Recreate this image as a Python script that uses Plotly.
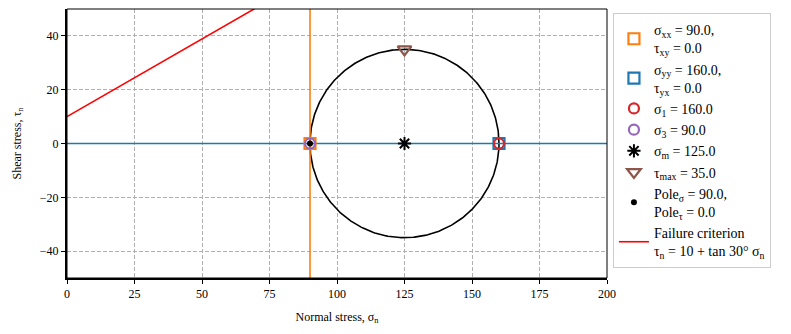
import numpy as np
import plotly.graph_objects as go

# Data
sigma_xx, tau_xy = 90.0, 0.0
sigma_yy, tau_yx = 160.0, 0.0
sigma_1 = 160.0
sigma_3 = 90.0
sigma_m = 125.0
tau_max = 35.0
pole_sigma, pole_tau = 90.0, 0.0
cohesion = 10.0
friction_deg = 30.0
x_ticks = [0, 25, 50, 75, 100, 125, 150, 175, 200]
y_ticks = [-40, -20, 0, 20, 40]

FONT = "Liberation Serif"
fig = go.Figure()

# Mohr circle
theta = np.linspace(0, 2 * np.pi, 400)
fig.add_trace(go.Scatter(x=sigma_m + tau_max * np.cos(theta), y=tau_max * np.sin(theta),
                         mode="lines", line=dict(color="black", width=1.6),
                         showlegend=False, hoverinfo="skip"))
# Plane lines through the pole
fig.add_trace(go.Scatter(x=[sigma_xx, sigma_xx], y=[-50, 50], mode="lines",
                         line=dict(color="#ff7f0e", width=1.6), showlegend=False))
fig.add_trace(go.Scatter(x=[0, 200], y=[pole_tau, pole_tau], mode="lines",
                         line=dict(color="#1f77b4", width=1.6), showlegend=False))

def mk(x, y, name, symbol, color, size=11, lw=2.2):
    fig.add_trace(go.Scatter(x=[x], y=[y], mode="markers", name=name,
                             marker=dict(symbol=symbol, size=size, color=color,
                                         line=dict(color=color, width=lw))))

mk(sigma_xx, tau_xy, f"σ<sub>xx</sub> = {sigma_xx:.1f},<br>τ<sub>xy</sub> = {tau_xy:.1f}", "square-open", "#ff7f0e")
mk(sigma_yy, tau_yx, f"σ<sub>yy</sub> = {sigma_yy:.1f},<br>τ<sub>yx</sub> = {tau_yx:.1f}", "square-open", "#1f77b4")
mk(sigma_1, 0, f"σ<sub>1</sub> = {sigma_1:.1f}", "circle-open", "#d62728", size=10)
mk(sigma_3, 0, f"σ<sub>3</sub> = {sigma_3:.1f}", "circle-open", "#9467bd", size=10)
mk(sigma_m, 0, f"σ<sub>m</sub> = {sigma_m:.1f}", "asterisk-open", "black", size=11, lw=2)
mk(sigma_m, tau_max, f"τ<sub>max</sub> = {tau_max:.1f}", "triangle-down-open", "#8c564b", size=12)
fig.add_trace(go.Scatter(x=[pole_sigma], y=[pole_tau], mode="markers",
                         name=f"Pole<sub>σ</sub> = {pole_sigma:.1f},<br>Pole<sub>τ</sub> = {pole_tau:.1f}",
                         marker=dict(symbol="circle", size=6, color="black")))

# Failure criterion
xf = np.array([0.0, 200.0])
fig.add_trace(go.Scatter(x=xf, y=cohesion + np.tan(np.radians(friction_deg)) * xf, mode="lines",
                         name="Failure criterion<br>τ<sub>n</sub> = 10 + tan 30° σ<sub>n</sub>",
                         line=dict(color="red", width=1.6)))

axis_common = dict(showgrid=True, gridcolor="#b0b0b0", griddash="4px,2px", gridwidth=1,
                   zeroline=False, showline=True, linecolor="black", linewidth=2,
                   ticks="outside", ticklen=4, tickcolor="black", tickwidth=1,
                   tickfont=dict(family=FONT, size=12, color="black"), mirror=False)

fig.update_layout(
    width=791, height=334,
    margin=dict(l=67, r=184, t=9, b=56),
    plot_bgcolor="white", paper_bgcolor="white",
    font=dict(family=FONT, size=12, color="black"),
    xaxis=dict(range=[0, 200], tickvals=x_ticks,
               title=dict(text="Normal stress, σ<sub>n</sub>", standoff=12,
                          font=dict(family=FONT, size=12)), **axis_common),
    yaxis=dict(range=[-50, 50], tickvals=y_ticks, ticktext=[str(v).replace("-", "−") for v in y_ticks],
               title=dict(text="Shear stress, τ<sub>n</sub>", standoff=16,
                          font=dict(family=FONT, size=12)), **axis_common),
    legend=dict(x=1.011, xanchor="left", y=0.985, yanchor="top",
                bordercolor="#cccccc", borderwidth=1, bgcolor="white",
                font=dict(family=FONT, size=14), itemwidth=30),
    shapes=[dict(type="rect", xref="paper", yref="paper", x0=0, x1=1, y0=0, y1=1,
                 line=dict(color="black", width=1), layer="above")],
)

fig.write_html("out.html")
